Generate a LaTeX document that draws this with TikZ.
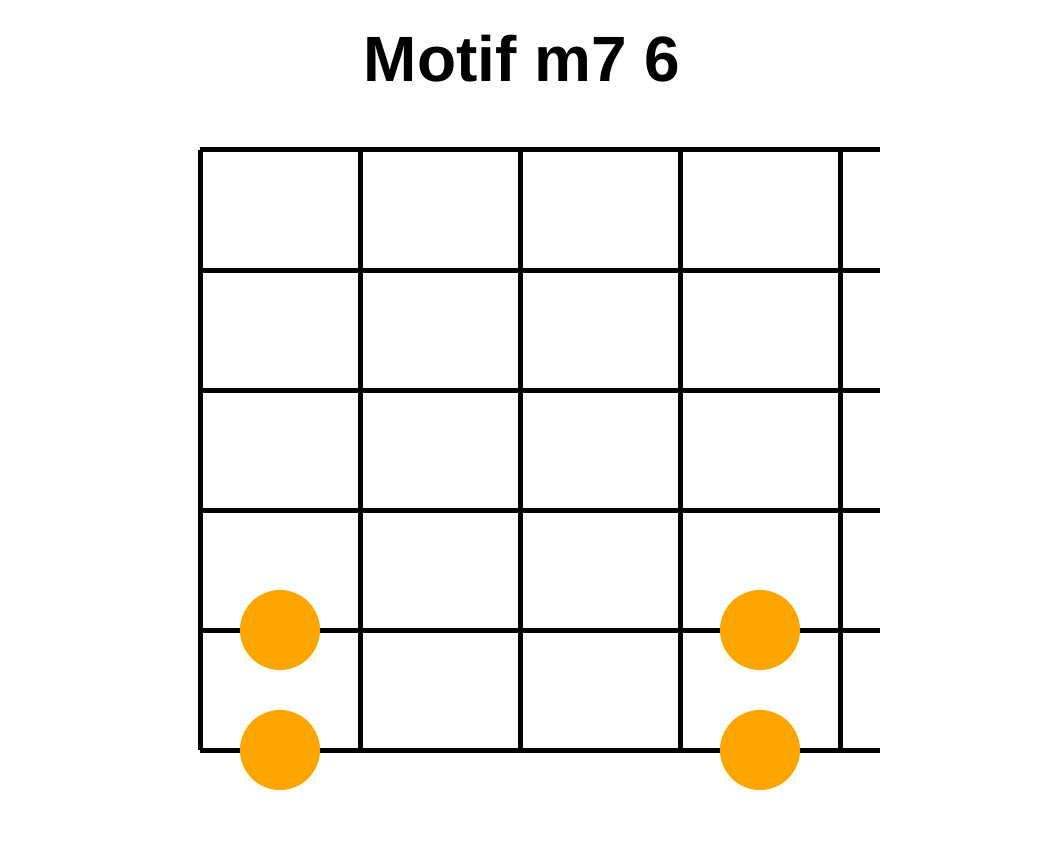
\documentclass[tikz,border=0pt]{standalone}
\usepackage{fontspec}
\setmainfont{Liberation Sans}
\usepackage{tikz}
\definecolor{dotorange}{RGB}{255,165,0}

\begin{document}
\begin{tikzpicture}[x=1pt,y=-1pt]
\tikzstyle{fret}=[line width=5pt,black]
\tikzstyle{dot}=[circle,fill=dotorange,minimum size=80pt,inner sep=0pt]
\useasboundingbox[fill=white] (0,0) rectangle (1040,850);
\node[anchor=base,font=\fontsize{64}{77}\selectfont\bfseries] (title) at (522,82) {Motif m7 6};
\foreach \y in {150,270,390,510,630,750}
	\draw[fret] (200,\y) -- (880,\y);
\foreach \x in {200,360,520,680,840}
	\draw[fret] (\x,150) -- (\x,750);
\foreach \name/\point in {
	a/{280,630},
	b/{280,750},
	c/{760,630},
	d/{760,750}}
	\node[dot] (\name) at (\point) {};
\end{tikzpicture}
\end{document}
